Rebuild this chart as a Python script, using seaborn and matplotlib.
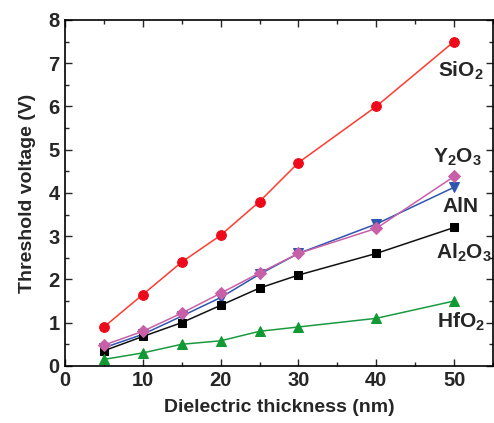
import matplotlib
matplotlib.use("Agg")
import matplotlib.pyplot as plt
import seaborn as sns
import pandas as pd
from matplotlib.ticker import MultipleLocator

thickness = [5, 10, 15, 20, 25, 30, 40, 50]
sio2 = [0.9, 1.65, 2.4, 3.02, 3.8, 4.7, 6.0, 7.5]
y2o3 = [0.48, 0.8, 1.22, 1.68, 2.15, 2.6, 3.18, 4.38]
aln = [0.42, 0.73, 1.15, 1.58, 2.12, 2.6, 3.28, 4.13]
al2o3 = [0.35, 0.68, 1.0, 1.4, 1.8, 2.1, 2.6, 3.2]
hfo2 = [0.15, 0.3, 0.5, 0.58, 0.8, 0.9, 1.1, 1.5]

series_names = ["SiO2", "Y2O3", "AlN", "Al2O3", "HfO2"]
series_vals = [sio2, y2o3, aln, al2o3, hfo2]
labels = [r"SiO$_\mathbf{2}$", r"Y$_\mathbf{2}$O$_\mathbf{3}$", "AlN",
          r"Al$_\mathbf{2}$O$_\mathbf{3}$", r"HfO$_\mathbf{2}$"]

sns.set_theme(style="ticks")
plt.rcParams['font.family'] = ['Liberation Sans', 'DejaVu Sans']
plt.rcParams['mathtext.fontset'] = 'custom'
plt.rcParams['mathtext.rm'] = 'Liberation Sans:bold'
plt.rcParams['mathtext.bf'] = 'Liberation Sans:bold'
plt.rcParams['mathtext.it'] = 'Liberation Sans:bold'

rows = []
for name, vals in zip(series_names, series_vals):
    for t, v in zip(thickness, vals):
        rows.append({"t": t, "v": v, "mat": name})
df = pd.DataFrame(rows)

fig = plt.figure(figsize=(4.94, 4.23), dpi=100)
ax = fig.add_axes([0.1316, 0.135, 0.8664, 0.818])

colors = {"SiO2": "#ff3b30", "Y2O3": "#c860a8", "AlN": "#2e55b0",
          "Al2O3": "#111111", "HfO2": "#1a9a40"}
mcolors = {"SiO2": "#ee0a1a", "Y2O3": "#c860a8", "AlN": "#2e55b0",
           "Al2O3": "#000000", "HfO2": "#119933"}
markers = {"SiO2": "o", "Y2O3": "D", "AlN": "v", "Al2O3": "s", "HfO2": "^"}
msize = {"SiO2": 7, "Y2O3": 6.5, "AlN": 7, "Al2O3": 6, "HfO2": 7}

order = ["SiO2", "AlN", "Al2O3", "HfO2", "Y2O3"]
for name in order:
    sub = df[df["mat"] == name]
    sns.lineplot(data=sub, x="t", y="v", ax=ax, color=colors[name], lw=1.1,
                 marker=markers[name], markersize=msize[name],
                 markerfacecolor=mcolors[name], markeredgecolor=mcolors[name],
                 legend=False)

ax.set_xlim(0, 55)
ax.set_ylim(0, 8)
ax.xaxis.set_major_locator(MultipleLocator(10))
ax.xaxis.set_minor_locator(MultipleLocator(5))
ax.yaxis.set_major_locator(MultipleLocator(1))
ax.yaxis.set_minor_locator(MultipleLocator(0.5))
ax.tick_params(which="both", direction="in", top=True, right=True, width=1.0)
ax.tick_params(which="major", length=5, labelsize=14.5, pad=4)
ax.tick_params(which="minor", length=3)
ax.tick_params(axis="x", which="both", labeltop=False)
for lab in ax.get_xticklabels() + ax.get_yticklabels():
    lab.set_fontweight("bold")
for s in ax.spines.values():
    s.set_linewidth(1.2)
    s.set_color("black")

ax.set_xlabel("Dielectric thickness (nm)", fontsize=14, fontweight="bold", labelpad=6)
ax.set_ylabel("Threshold voltage (V)", fontsize=14, fontweight="bold", labelpad=9)

label_pos = [(50.9, 6.82), (50.4, 4.83), (50.8, 3.69), (51.3, 2.62), (50.9, 1.02)]
for txt, (x, y) in zip(labels, label_pos):
    ax.text(x, y, txt, fontsize=15, fontweight="bold", ha="center", va="center")

fig.savefig("out.png", dpi=100)
